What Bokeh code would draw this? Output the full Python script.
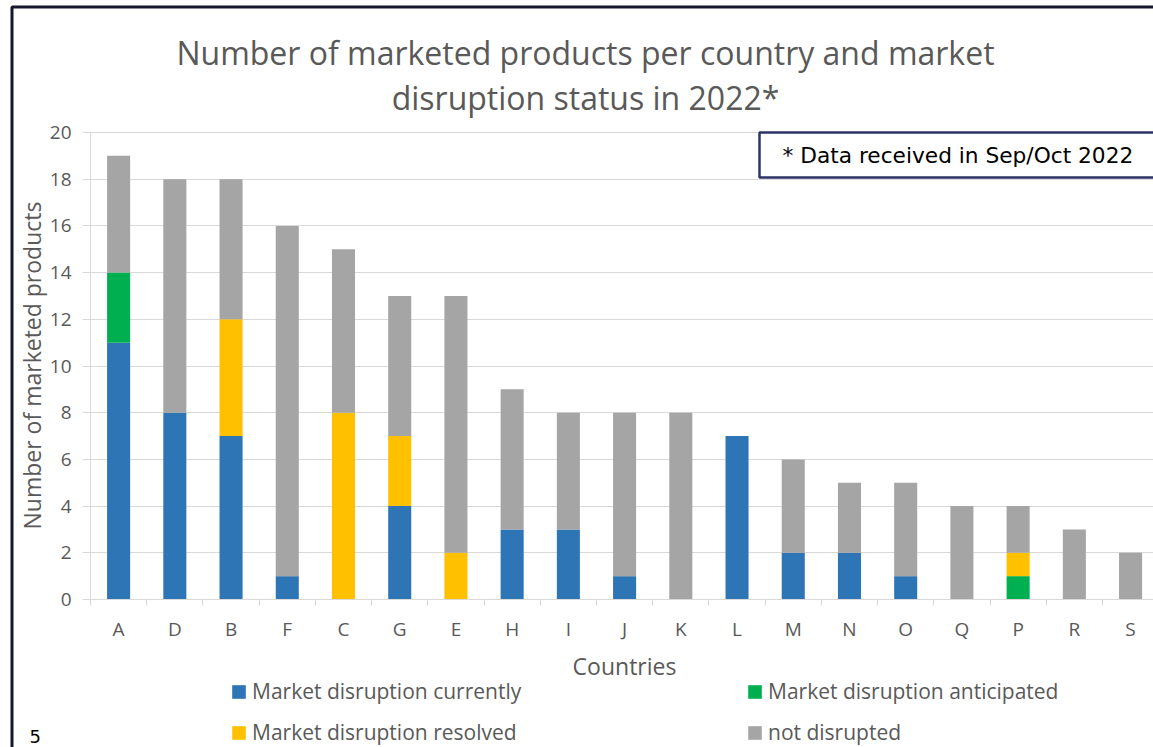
import math
from bokeh.plotting import figure
from bokeh.models import (ColumnDataSource, Range1d, FixedTicker, Legend, LegendItem, Label, BoxAnnotation)
from bokeh.embed import file_html
from bokeh.resources import INLINE

countries = ["A", "D", "B", "F", "C", "G", "E", "H", "I", "J", "K", "L", "M", "N", "O", "Q", "P", "R", "S"]
currently = [11, 8, 7, 1, 0, 4, 0, 3, 3, 1, 0, 7, 2, 2, 1, 0, 0, 0, 0]
anticipated = [3, 0, 0, 0, 0, 0, 0, 0, 0, 0, 0, 0, 0, 0, 0, 0, 1, 0, 0]
resolved = [0, 0, 5, 0, 8, 3, 2, 0, 0, 0, 0, 0, 0, 0, 0, 0, 1, 0, 0]
not_disrupted = [5, 10, 6, 15, 7, 6, 11, 6, 5, 7, 8, 0, 4, 3, 4, 4, 2, 3, 2]

series_keys = ["currently", "anticipated", "resolved", "not_disrupted"]
series_labels = ["Market disruption currently", "Market disruption anticipated",
                 "Market disruption resolved", "not disrupted"]
colors = ["#2E75B6", "#00B050", "#FFC000", "#A5A5A5"]

y_ticks = list(range(0, 21, 2))
title_lines = ["Number of marketed products per country and market", "disruption status in 2022*"]
x_title = "Countries"
y_title = "Number of marketed products"
note_text = "* Data received in Sep/Oct 2022"
page_no = "5"

pos = [i + 0.5 for i in range(len(countries))]
src = ColumnDataSource(dict(pos=pos, currently=currently, anticipated=anticipated,
                            resolved=resolved, not_disrupted=not_disrupted))

# ---- layout: the frame covers the whole canvas; axes are fixed at 0 ----
W, H = 1153, 747
X0, Y0 = 90.0, 599.0          # pixel position of the data origin
SX, SY = 56.22, 23.35          # pixels per unit
def dx(px):
    return (px - X0) / SX
def dy(py):
    return (Y0 - py) / SY

x_max = dx(W)
p = figure(width=W, height=H, x_range=Range1d(dx(0), x_max), y_range=Range1d(dy(H), dy(0)),
           output_backend="svg", toolbar_location=None,
           min_border_left=0, min_border_right=0, min_border_top=0, min_border_bottom=0)
p.title.visible = False
p.outline_line_color = None
p.background_fill_color = "white"
p.border_fill_color = "white"

GRID = "#D9D9D9"
TXT = "#595959"
FONT = "Open Sans"

rs = p.vbar_stack(series_keys, x="pos", width=0.41, fill_color=colors, line_color=None, source=src)

# x axis
xa = p.xaxis[0]
xa.fixed_location = 0
xa.bounds = (0, x_max)
xa.ticker = FixedTicker(ticks=pos, minor_ticks=list(range(0, len(countries) + 1)))
xa.major_label_overrides = {pp: c for pp, c in zip(pos, countries)}
xa.major_tick_line_color = None
xa.major_tick_out = 0
xa.major_tick_in = 0
xa.minor_tick_line_color = GRID
xa.minor_tick_out = 6
xa.minor_tick_in = 0
xa.axis_line_color = GRID
xa.major_label_text_font = FONT
xa.major_label_text_font_size = "19px"
xa.major_label_text_color = TXT
xa.major_label_standoff = 10

# y axis
ya = p.yaxis[0]
ya.fixed_location = 0
ya.bounds = (0, 20)
ya.ticker = FixedTicker(ticks=y_ticks, minor_ticks=[])
ya.major_tick_out = 8
ya.major_tick_in = 0
ya.major_tick_line_color = GRID
ya.minor_tick_line_color = None
ya.axis_line_color = GRID
ya.major_label_text_font = FONT
ya.major_label_text_font_size = "19px"
ya.major_label_text_color = TXT
ya.major_label_standoff = 11

p.xgrid.visible = False
yg = p.ygrid[0]
yg.ticker = FixedTicker(ticks=y_ticks, minor_ticks=[])
yg.grid_line_color = GRID
if "cross_bounds" in yg.properties():
    yg.cross_bounds = (0, x_max)

# axis titles
p.add_layout(Label(x=dx(624), y=dy(665), text=x_title, text_align="center", text_baseline="alphabetic",
                   text_font=FONT, text_font_size="23px", text_color=TXT))
p.add_layout(Label(x=dx(31), y=dy(365), text=y_title, angle=math.pi / 2, text_align="center",
                   text_baseline="alphabetic", text_font=FONT, text_font_size="23px", text_color=TXT))

# legend
items = [LegendItem(label=lab, renderers=[r]) for lab, r in zip(series_labels, rs)]
legend = Legend(items=items, location=(230, 1), orientation="horizontal", ncols=2,
                glyph_width=17, glyph_height=17, label_standoff=5, label_width=481,
                label_height=26, spacing=13, padding=0, margin=0, border_line_color=None,
                background_fill_alpha=0,
                label_text_font=FONT, label_text_font_size="21px", label_text_color=TXT)
p.add_layout(legend)

# chart title (two lines)
for line, by in zip(title_lines, [52, 97]):
    p.add_layout(Label(x=dx(585), y=dy(by), text=line, text_align="center", text_baseline="alphabetic",
                       text_font=FONT, text_font_size="32px", text_color=TXT))

# note box
p.add_layout(Label(x=dx(759), y=dy(154.5), text=note_text, text_align="left", text_baseline="middle",
                   text_font="DejaVu Sans", text_font_size="21.7px", text_color="#000000",
                   padding=(23, 23, 10, 10), border_line_color="#2E3468", border_line_width=2.5,
                   background_fill_color="white"))

# slide frame border and page number
p.add_layout(BoxAnnotation(left=dx(11.5), right=dx(W + 200), top=dy(6.5), bottom=dy(H + 200),
                           fill_color=None, fill_alpha=0, line_color="#17172B", line_alpha=1.0,
                           line_width=3))
p.add_layout(Label(x=dx(29), y=dy(736), text=page_no, text_align="left", text_baseline="alphabetic",
                   text_font="DejaVu Sans", text_font_size="18px", text_color="#000000"))

open("out.html", "w").write(file_html(p, INLINE))
